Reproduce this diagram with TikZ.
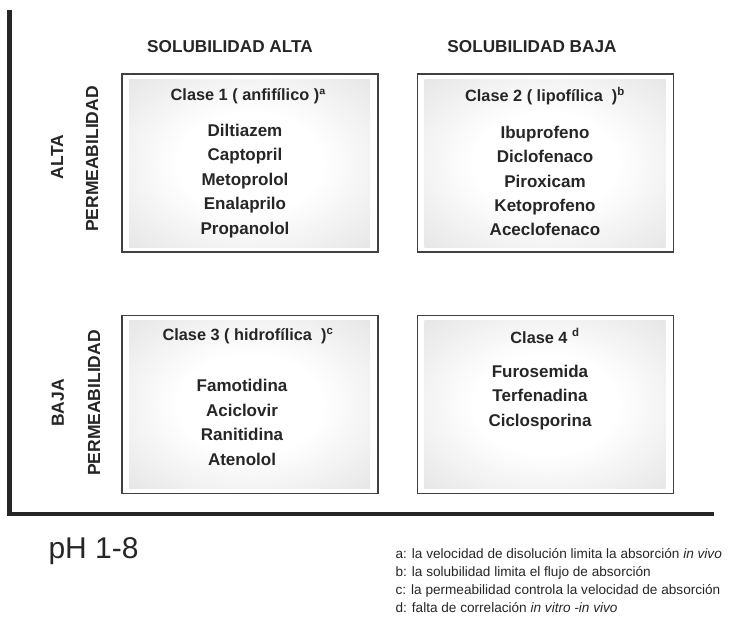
\documentclass[tikz,border=0pt]{standalone}
\usepackage{fontspec}
\setmainfont{Liberation Sans}
\usetikzlibrary{positioning}

\pgfdeclareradialshading{boxglow}{\pgfpoint{0bp}{0bp}}{color(0bp)=(white); color(14bp)=(white); color(44bp)=(black!15); color(75bp)=(black!15)}

\begin{document}
\begin{tikzpicture}[x=1pt,y=-1pt,
    class box/.style={draw=black!75,line width=1.1pt,minimum width=256pt,minimum height=178pt,inner sep=0pt,
        path picture={\shade[shading=boxglow] ([shift={(7,5)}]path picture bounding box.north west) rectangle ([shift={(-8,-5)}]path picture bounding box.south east);}},
    head/.style={font=\fontsize{17.2}{18}\bfseries\selectfont,text=black!85},
    side/.style={font=\fontsize{17.5}{18}\bfseries\selectfont,text=black!85,rotate=90},
    title/.style={font=\fontsize{16.3}{18}\bfseries\selectfont,text=black!85},
    drugs/.style={font=\fontsize{17}{24.4}\bfseries\selectfont,text=black!85,align=center},
    note/.style={font=\fontsize{13.6}{18}\selectfont,text=black!85,align=left,anchor=west}
]
    \useasboundingbox (0,0) rectangle (730,616);

    % axes
    \coordinate (top) at (9.5,10);
    \coordinate (corner) at (9.5,514);
    \coordinate (end) at (714,514);
    \draw[line width=4.5pt,black!85] (top) -- (corner) -- (end);

    % column and row headings
    \node[head] (solalta) at (230,47) {SOLUBILIDAD ALTA};
    \node[head] (solbaja) at (532,47) {SOLUBILIDAD BAJA};
    \node[side] (alta) at (57,157) {ALTA};
    \node[side] (permalta) at (92,159) {PERMEABILIDAD};
    \node[side] (baja) at (58,403) {BAJA};
    \node[side] (permbaja) at (94,403) {PERMEABILIDAD};

    % the four classes
    \node[class box] (c1) at (250,163) {};
    \node[class box] (c2) at (545.5,163) {};
    \node[class box] (c3) at (250,404.5) {};
    \node[class box] (c4) at (545.5,404.5) {};

    \node[title] (t1) at (248,96) {Clase 1 ( anfifílico )ª};
    \node[title] (t2) at (545,96) {Clase 2 ( lipofílica \ )\textsuperscript{b}};
    \node[title] (t3) at (248,336) {Clase 3 ( hidrofílica \ )\textsuperscript{c}};
    \node[title] (t4) at (545,336) {Clase 4 \textsuperscript{d}};

    \node[drugs] (d1) at (245,181) {Diltiazem\\Captopril\\Metoprolol\\Enalaprilo\\Propanolol};
    \node[drugs] (d2) at (545,181) {Ibuprofeno\\Diclofenaco\\Piroxicam\\Ketoprofeno\\Aceclofenaco};
    \node[drugs] (d3) at (242,422.5) {Famotidina\\Aciclovir\\Ranitidina\\Atenolol};
    \node[drugs] (d4) at (540,397.5) {Furosemida\\Terfenadina\\Ciclosporina};

    % footer
    \node[anchor=west,font=\fontsize{30}{32}\selectfont,text=black!85] (ph) at (45,551) {pH 1-8};
    \node[note] (notes) at (392,580.5) {a: la velocidad de disolución limita la absorción \textit{in vivo}\\
        b: la solubilidad limita el flujo de absorción\\
        c: la permeabilidad controla la velocidad de absorción\\
        d: falta de correlación \textit{in vitro -in vivo}};
\end{tikzpicture}
\end{document}
